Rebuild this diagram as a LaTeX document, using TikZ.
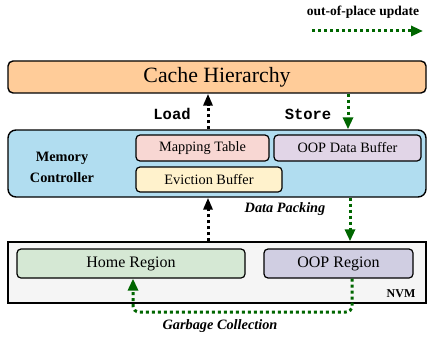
\documentclass[tikz,border=0pt]{standalone}
\usepackage{fontspec}
\setmainfont{Liberation Serif}
\setmonofont{Liberation Mono}
\usetikzlibrary{arrows.meta}
\definecolor{cacheC}{HTML}{FFCC99}
\definecolor{mcC}{HTML}{B1DDF0}
\definecolor{mapC}{HTML}{F8D7D3}
\definecolor{oopbC}{HTML}{E1D5E7}
\definecolor{evC}{HTML}{FFF2CC}
\definecolor{nvmC}{HTML}{F5F5F5}
\definecolor{homeC}{HTML}{D5E8D4}
\definecolor{oopC}{HTML}{D0CEE2}
\definecolor{gArrow}{HTML}{006600}
\tikzset{
  box/.style={draw=black, line width=1.4pt, rounded corners=5pt},
  inner/.style={draw=black, line width=1.2pt, rounded corners=4pt, font=\fontsize{14.3}{16}\selectfont},
  lbl/.style={font=\fontsize{14.3}{16}\selectfont\bfseries\itshape},
  garr/.style={draw=gArrow, line width=3pt, dash pattern=on 3pt off 3pt, -{Triangle[length=12pt,width=10pt,fill=gArrow]}},
  karr/.style={draw=black, line width=3pt, dash pattern=on 3pt off 3pt, -{Triangle[length=12pt,width=9pt,fill=black]}},
}
\begin{document}
\begin{tikzpicture}[x=1pt,y=-1pt]
\useasboundingbox (0,0) rectangle (427,339);
% legend
\node[font=\fontsize{13.5}{15}\bfseries\selectfont] (legtxt) at (363,12) {out-of-place update};
\coordinate (legA) at (312,31);
\coordinate (legB) at (423,31);
\draw[garr] (legA) -- (legB);
% cache
\node[box, fill=cacheC, minimum width=418pt, minimum height=32pt, font=\fontsize{21.8}{24}\selectfont] (cache) at (217,77) {Cache Hierarchy};
% memory controller
\node[box, rounded corners=8pt, fill=mcC, minimum width=418pt, minimum height=67pt] (mc) at (217,163.5) {};
\node[font=\fontsize{14.3}{21}\bfseries\selectfont, align=center] (mctxt) at (62,167) {Memory\\Controller};
\node[inner, fill=mapC, minimum width=133pt, minimum height=26pt] (map) at (202.5,148) {Mapping Table};
\node[inner, fill=oopbC, minimum width=147pt, minimum height=26pt] (oopb) at (347.5,148) {OOP Data Buffer};
\node[inner, fill=evC, minimum width=146pt, minimum height=25pt] (ev) at (209,179.5) {Eviction Buffer};
% NVM
\node[draw=black, line width=1.4pt, fill=nvmC, minimum width=418pt, minimum height=61pt] (nvm) at (217,272.5) {};
\node[font=\fontsize{12}{14}\bfseries\selectfont] (nvmtxt) at (401,294) {NVM};
\node[inner, font=\fontsize{16}{18}\selectfont, fill=homeC, minimum width=228pt, minimum height=29pt] (home) at (131,263.5) {Home Region};
\node[inner, font=\fontsize{16}{18}\selectfont, fill=oopC, minimum width=149pt, minimum height=29pt] (oop) at (338.5,263.5) {OOP Region};
% arrows
\draw[karr] (mc.north -| 208,0) -- (cache.south -| 208,0);
\draw[garr] (cache.south -| 348,0) -- (mc.north -| 348,0);
\draw[karr] (nvm.north -| 208,0) -- (mc.south -| 208,0);
\draw[garr] (mc.south -| 350,0) -- (nvm.north -| 350,0);
\coordinate (gc1) at (352,312);
\coordinate (gc2) at (133,312);
\draw[garr, rounded corners=6pt] (oop.south -| 352,0) -- (gc1) -- (gc2) -- (home.south -| 133,0);
% labels
\node[font=\fontsize{15.5}{17}\ttfamily\bfseries\selectfont] (loadtxt) at (172,114) {Load};
\node[font=\fontsize{15.5}{17}\ttfamily\bfseries\selectfont] (storetxt) at (308,114) {Store};
\node[lbl] (dptxt) at (285,209) {Data Packing};
\node[lbl] (gctxt) at (220,326) {Garbage Collection};
\end{tikzpicture}
\end{document}
